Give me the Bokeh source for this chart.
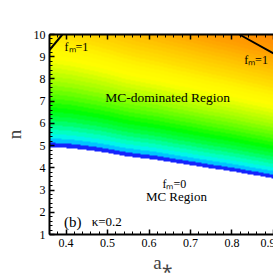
import numpy as np
from bokeh.plotting import figure
from bokeh.models import LinearColorMapper, Label, LinearAxis, FixedTicker
from bokeh.embed import file_html
from bokeh.resources import INLINE

# ---- data ----
# lower edge of the coloured region (f_m = 0 boundary)
a_edge = [0.36, 0.41, 0.48, 0.54, 0.62, 0.73, 0.81, 0.905]
n_edge = [4.92, 4.87, 4.72, 4.52, 4.34, 4.02, 3.80, 3.50]
# colour-value gradient above the edge (value per unit n)
a_grad = [0.36, 0.60, 0.905]
k_grad = [0.150, 0.168, 0.184]
# f_m = 1 contour pieces
fm1_left_a = [0.36, 0.391]
fm1_left_n = [9.3, 10.0]
fm1_right_a = [0.818, 0.905]
fm1_right_n = [10.0, 9.1]

x_ticks = [0.4, 0.5, 0.6, 0.7, 0.8, 0.9]
y_ticks = [1, 2, 3, 4, 5, 6, 7, 8, 9, 10]

# ---- colour palette (banded) ----
anchors = [
    (0.00, (20, 20, 250)), (0.02, (20, 40, 255)), (0.035, (0, 170, 255)),
    (0.06, (0, 235, 255)), (0.09, (0, 255, 215)), (0.13, (0, 255, 160)),
    (0.19, (0, 255, 70)), (0.26, (0, 255, 0)), (0.34, (80, 255, 0)),
    (0.44, (160, 255, 0)), (0.53, (215, 255, 0)), (0.60, (255, 255, 0)),
    (0.69, (255, 245, 0)), (0.76, (255, 225, 0)), (0.85, (255, 205, 0)),
    (0.95, (255, 180, 0)), (1.04, (255, 158, 0)), (1.20, (255, 135, 0)),
]
step = 0.03
nb = 40
pal = []
ap = [q[0] for q in anchors]
for i in range(nb):
    c = (i + 0.5) * step
    r = int(np.interp(c, ap, [q[1][0] for q in anchors]))
    g = int(np.interp(c, ap, [q[1][1] for q in anchors]))
    b = int(np.interp(c, ap, [q[1][2] for q in anchors]))
    pal.append("#%02x%02x%02x" % (r, g, b))

xa, xb = 0.36, 0.905
a_grid = np.linspace(xa, xb, 220)
n_grid = np.linspace(1, 10, 400)
n0 = np.interp(a_grid, a_edge, n_edge)
kk = np.interp(a_grid, a_grad, k_grad)
V = kk[None, :] * (n_grid[:, None] - n0[None, :])
V = np.where(V < 0, np.nan, np.floor(V / step) * step + step / 2)

p = figure(frame_width=226, frame_height=200, x_range=(xa, xb), y_range=(1, 10),
           output_backend="svg", toolbar_location=None,
           min_border_left=39, min_border_right=0, min_border_top=34,
           min_border_bottom=30)
p.outline_line_color = None
p.grid.visible = False
p.background_fill_color = "white"

mapper = LinearColorMapper(palette=pal, low=0, high=nb * step, nan_color=(0, 0, 0, 0))
p.image(image=[V], x=xa, y=1, dw=xb - xa, dh=9, color_mapper=mapper)

p.line(fm1_left_a, fm1_left_n, line_color="black", line_width=2)
p.line(fm1_right_a, fm1_right_n, line_color="black", line_width=1.8)

font = "Liberation Serif"
minor_x = [round(0.36 + 0.02 * i, 2) for i in range(28)]
minor_y = [1 + 0.2 * i for i in range(46)]

xa_ax = p.xaxis[0]
xa_ax.ticker = FixedTicker(ticks=x_ticks, minor_ticks=minor_x)
ya_ax = p.yaxis[0]
ya_ax.ticker = FixedTicker(ticks=y_ticks, minor_ticks=minor_y)

for ax in (xa_ax, ya_ax):
    ax.major_tick_in = 5
    ax.major_tick_out = 0
    ax.minor_tick_in = 3
    ax.minor_tick_out = 0
    ax.axis_line_width = 2
    ax.major_tick_line_width = 1.5
    ax.major_label_text_font = font
    ax.major_label_text_font_size = "12px"
    ax.major_label_text_color = "black"
    ax.axis_label_text_font = font
    ax.axis_label_text_font_style = "normal"
    ax.axis_label_text_font_size = "19px"
    ax.major_label_standoff = 4

xa_ax.axis_label = "a⁎"
xa_ax.axis_label_standoff = 2
ya_ax.axis_label = "n"
ya_ax.axis_label_standoff = 6

top = LinearAxis(ticker=FixedTicker(ticks=x_ticks, minor_ticks=minor_x))
top.major_tick_in = 5
top.major_tick_out = 0
top.minor_tick_in = 3
top.minor_tick_out = 0
top.axis_line_width = 2
top.major_tick_line_width = 1.5
top.major_label_overrides = {t: "" for t in x_ticks}
top.major_label_standoff = 0
p.add_layout(top, "above")

def lab(x, y, t, size="12px", align="center"):
    p.add_layout(Label(x=x, y=y, text=t, text_font=font, text_font_size=size,
                       text_align=align, text_baseline="middle", text_color="black"))

lab(0.425, 9.44, "fₘ=1")
lab(0.858, 8.85, "fₘ=1")
lab(0.645, 7.18, "MC-dominated Region", size="13.5px")
lab(0.661, 3.27, "fₘ=0")
lab(0.666, 2.73, "MC Region", size="13px")
lab(0.416, 1.56, "(b)", size="15px")
lab(0.498, 1.58, "κ=0.2", size="13px")

open("out.html", "w").write(file_html(p, INLINE))
